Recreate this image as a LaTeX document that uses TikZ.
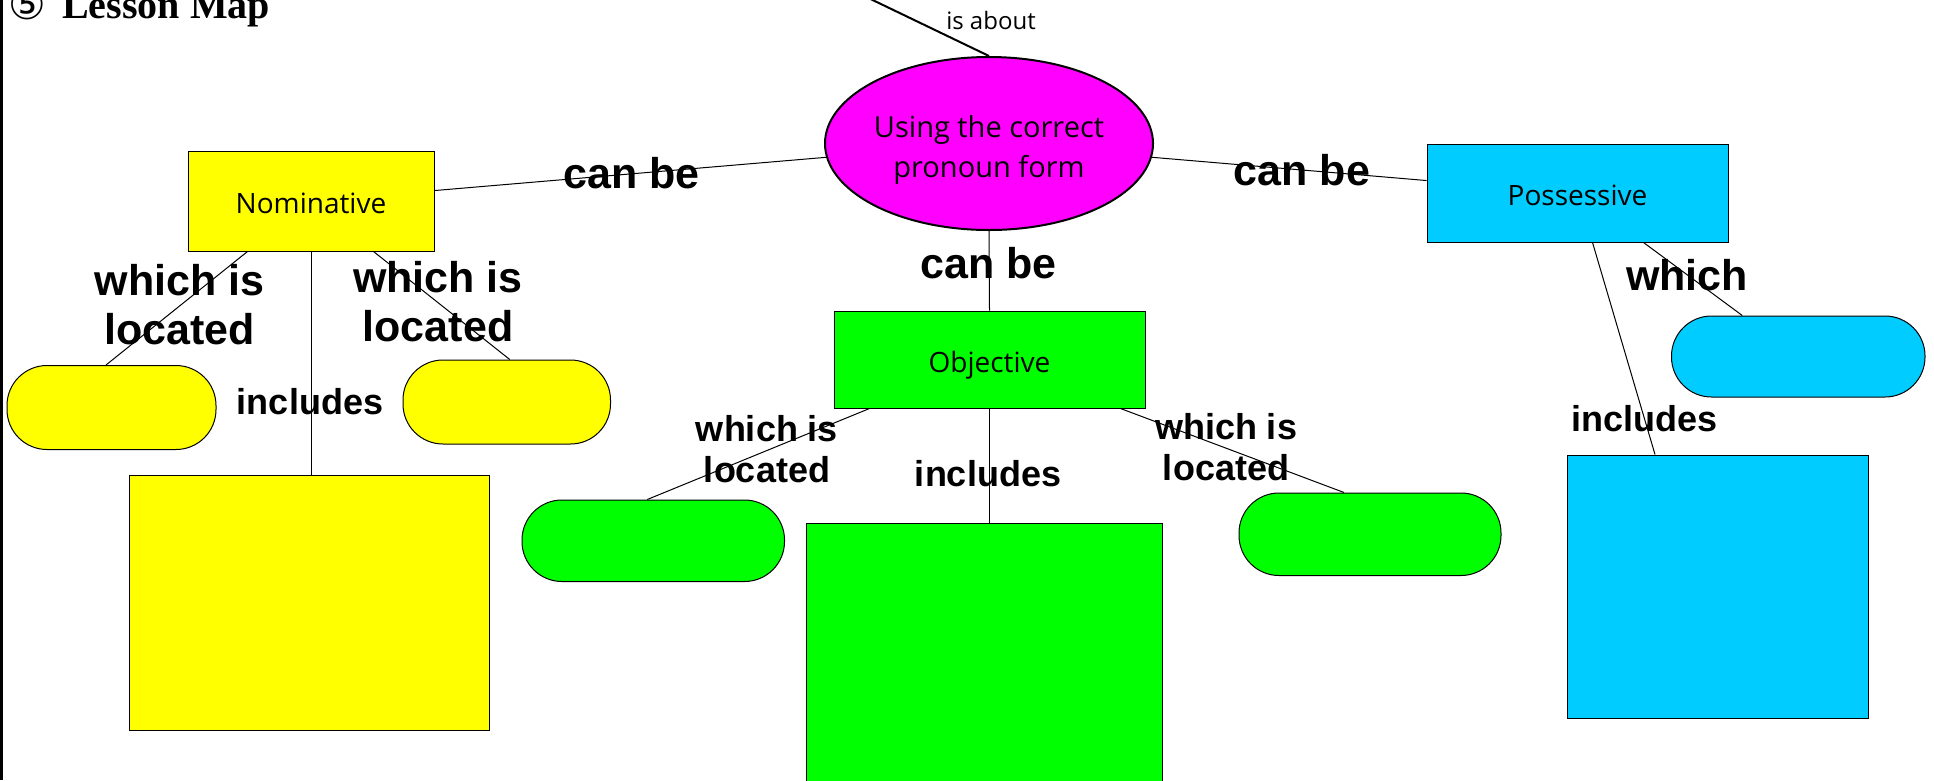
\documentclass[tikz,border=0pt]{standalone}
\usepackage{fontspec}
\newfontfamily\labfont{Liberation Sans}
\newfontfamily\boxfont{Open Sans}
\newfontfamily\titlefont{Liberation Serif}
\newfontfamily\symfont{DejaVu Sans}
\usetikzlibrary{shapes.geometric}
\definecolor{ybox}{HTML}{FFFF00}
\definecolor{gbox}{HTML}{00FF00}
\definecolor{bbox}{HTML}{00CCFF}
\definecolor{mbox}{HTML}{FF00FF}
\begin{document}
\begin{tikzpicture}[x=1pt,y=-1pt,
  box/.style={draw=black, line width=1pt, inner sep=0pt, font=\boxfont\fontsize{28}{34}\selectfont},
  stad/.style={draw=black, line width=1pt, inner sep=0pt, rounded corners=40pt},
  blk/.style={draw=black, line width=1pt, inner sep=0pt},
  conn/.style={draw=black, line width=1pt},
  biglab/.style={font=\labfont\bfseries\fontsize{43}{49}\selectfont, inner sep=0pt, align=center},
  smlab/.style={font=\labfont\bfseries\fontsize{36}{41}\selectfont, inner sep=0pt, align=center}]
\useasboundingbox (0,0) rectangle (1934,780);
\clip (0,0) rectangle (1934,780);
\fill[white] (0,0) rectangle (1934,780);
% left border
\draw[line width=3pt] (1.5,0) -- (1.5,780);
% title
\node[anchor=base west, inner sep=0pt, font=\symfont\fontsize{42}{42}\selectfont] (circ) at (8,19) {⑤};
\node[anchor=base west, inner sep=0pt, font=\titlefont\bfseries\fontsize{40}{40}\selectfont] (title) at (62,18) {Lesson Map};
% central ellipse
\node[ellipse, draw=black, line width=2pt, fill=mbox, minimum width=328pt, minimum height=173pt, inner sep=0pt] (ell) at (989,143.5) {};
\node[align=center, inner sep=0pt, font=\boxfont\fontsize{29}{40}\selectfont] (elltxt) at (989,150) {Using the correct\\pronoun form};
\coordinate (topend) at (831,-20);
\draw[line width=2pt] (topend) -- (ell.north);
\node[anchor=base, inner sep=0pt, font=\boxfont\fontsize{24}{24}\selectfont] (isabout) at (991,29) {is about};
% main boxes
\node[box, fill=ybox, minimum width=246pt, minimum height=100pt] (nom) at (311,201) {\raisebox{-2pt}[\height][\depth]{Nominative}};
\node[box, fill=gbox, minimum width=311pt, minimum height=97pt] (obj) at (989.5,359.5) {\raisebox{-6pt}[\height][\depth]{Objective}};
\node[box, fill=bbox, minimum width=301pt, minimum height=97.5pt] (poss) at (1577.5,193.25) {\raisebox{-2pt}[\height][\depth]{Possessive}};
% children
\node[stad, fill=ybox, minimum width=209pt, minimum height=84pt] (ysl) at (111.5,407.5) {};
\node[stad, fill=ybox, minimum width=207.5pt, minimum height=84pt] (ysr) at (506.75,402) {};
\node[blk, fill=ybox, minimum width=360pt, minimum height=255pt] (ybig) at (309.6,602.5) {};
\node[stad, fill=gbox, minimum width=262.5pt, minimum height=81.5pt] (gsl) at (653.25,540.75) {};
\node[stad, fill=gbox, minimum width=262pt, minimum height=82.5pt] (gsr) at (1370,534.25) {};
\node[blk, fill=gbox, minimum width=355.7pt, minimum height=277pt] (gbig) at (984.65,661.5) {};
\node[stad, fill=bbox, minimum width=253.5pt, minimum height=81pt] (bsr) at (1798.25,356.5) {};
\node[blk, fill=bbox, minimum width=301pt, minimum height=263pt] (bbig) at (1718,586.5) {};
% connectors
\draw[conn] (nom) -- (ell);
\draw[conn] (ell) -- (poss);
\draw[conn] (ell.south) -- (obj.north);
\draw[conn] ([xshift=60pt]nom.south west) -- ([xshift=-5.5pt]ysl.north);
\draw[conn] ([xshift=186pt]nom.south west) -- ([xshift=3pt]ysr.north);
\draw[conn] (nom.south) -- (nom.south |- ybig.north);
\draw[conn] ([xshift=36pt]obj.south west) -- ([xshift=-6pt]gsl.north);
\draw[conn] ([xshift=-25pt]obj.south east) -- ([xshift=-26pt]gsr.north);
\draw[conn] (obj.south) -- (obj.south |- gbig.north);
\draw[conn] ([xshift=66pt]poss.south) -- ([xshift=-56pt]bsr.north);
\draw[conn] ([xshift=15pt]poss.south) -- ([xshift=-63pt]bbig.north);
% labels
\node[biglab, anchor=base] (l1) at (631.5,188.7) {can be};
\node[biglab, anchor=base] (l2) at (1302,185) {can be};
\node[biglab, anchor=base] (l3) at (988.6,278.7) {can be};
\node[biglab] (l4) at (179.5,305.1) {which is\\located};
\node[biglab] (l5) at (438,302) {which is\\located};
\node[smlab, anchor=base] (l6) at (310,414) {includes};
\node[smlab] (l7) at (767,449.3) {which is\\located};
\node[smlab] (l8) at (1226,447.5) {which is\\located};
\node[smlab, anchor=base] (l9) at (988,486.7) {includes};
\node[biglab, anchor=base] (l10) at (1687,290) {which};
\node[smlab, anchor=base] (l11) at (1644.7,431.7) {includes};
\end{tikzpicture}
\end{document}
